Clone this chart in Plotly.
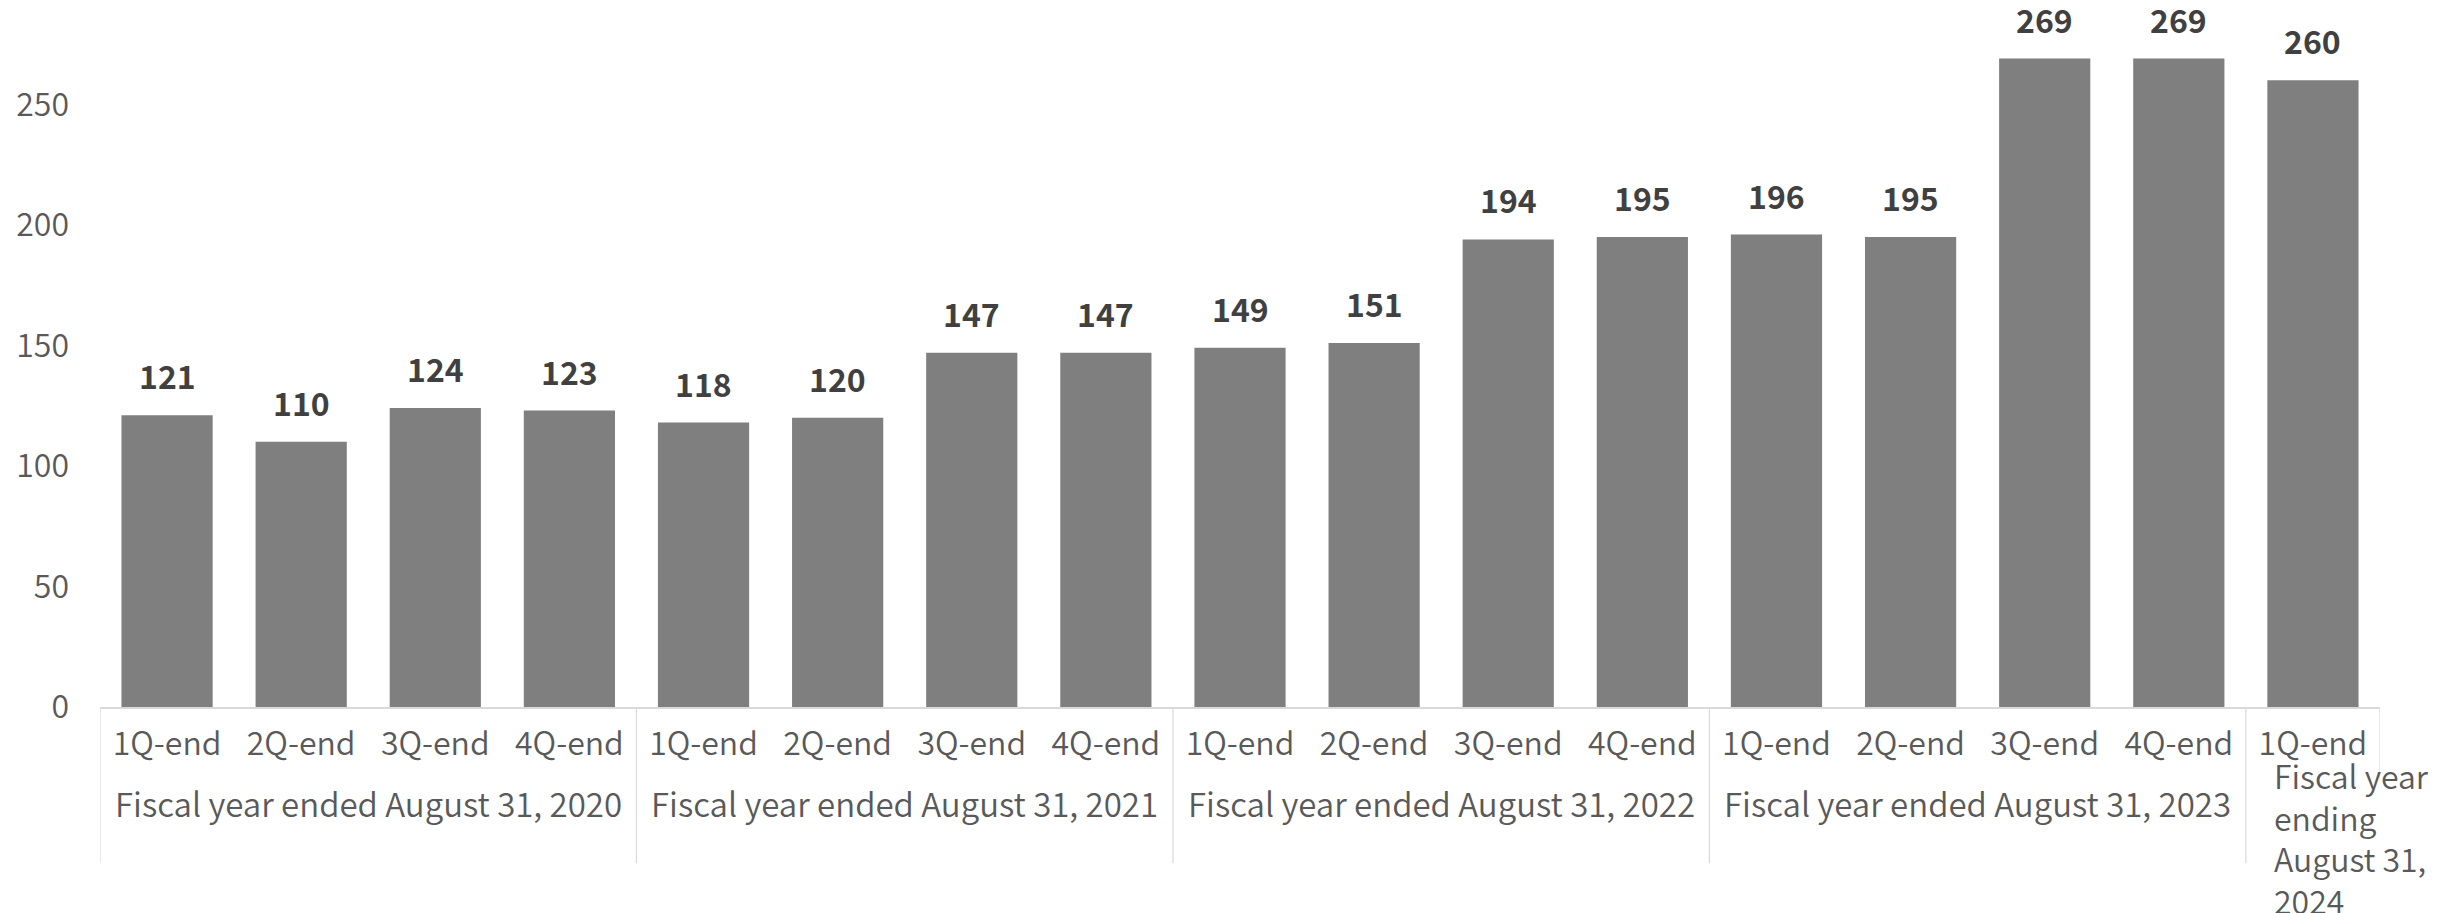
import plotly.graph_objects as go

quarters = ["1Q-end", "2Q-end", "3Q-end", "4Q-end",
            "1Q-end", "2Q-end", "3Q-end", "4Q-end",
            "1Q-end", "2Q-end", "3Q-end", "4Q-end",
            "1Q-end", "2Q-end", "3Q-end", "4Q-end",
            "1Q-end"]
values = [121, 110, 124, 123, 118, 120, 147, 147, 149, 151, 194, 195, 196, 195, 269, 269, 260]
groups = ["Fiscal year ended August 31, 2020",
          "Fiscal year ended August 31, 2021",
          "Fiscal year ended August 31, 2022",
          "Fiscal year ended August 31, 2023",
          "Fiscal year<br>ending<br>August 31,<br>2024"]
group_sizes = [4, 4, 4, 4, 1]
y_ticks = [0, 50, 100, 150, 200, 250]

FONT = "Noto Sans CJK JP"
LABEL_FONT = dict(family=FONT, size=32, color="#595959", weight=350)
x = list(range(len(values)))

fig = go.Figure()
fig.add_trace(go.Bar(
    x=x, y=values,
    marker=dict(color="#7f7f7f", line=dict(width=0)),
    hoverinfo="x+y",
))

annotations = []
for xi, v in zip(x, values):
    annotations.append(dict(
        x=xi, y=v, xref="x", yref="y", text=str(v), showarrow=False,
        yanchor="bottom", yshift=15,
        font=dict(family=FONT, size=32, color="#404040", weight=700),
    ))

shapes = []
start = 0
for gi, (g, n) in enumerate(zip(groups, group_sizes)):
    center = start + (n - 1) / 2
    if n > 1:
        annotations.append(dict(
            x=center, y=-0.137, xref="x", yref="paper", text=g, showarrow=False,
            xanchor="center", yanchor="middle",
            font=dict(family=FONT, size=33, color="#595959", weight=350),
        ))
    else:
        annotations.append(dict(
            x=start, y=-0.186, xref="x", yref="paper", text=g, showarrow=False,
            xanchor="left", yanchor="middle", align="left", xshift=-41,
            font=LABEL_FONT,
        ))
    shapes.append(dict(type="line", xref="x", yref="paper",
                       x0=start - 0.5, x1=start - 0.5, y0=0, y1=-0.2236,
                       line=dict(color="#d9d9d9", width=1.2)))
    start += n
shapes.append(dict(type="line", xref="x", yref="paper",
                   x0=start - 0.5, x1=start - 0.5, y0=0, y1=-0.1006,
                   line=dict(color="#d9d9d9", width=1.2)))

fig.update_layout(
    width=2448, height=913,
    margin=dict(l=100, r=68, t=8, b=206),
    paper_bgcolor="white", plot_bgcolor="white",
    bargap=0.32,
    showlegend=False,
    annotations=annotations,
    shapes=shapes,
    font=dict(family=FONT, color="#595959"),
)
fig.update_xaxes(
    tickmode="array", tickvals=x, ticktext=quarters,
    range=[-0.5, len(values) - 0.5],
    showline=True, linecolor="#d9d9d9", linewidth=1.5,
    ticks="", showgrid=False, zeroline=False,
    tickfont=LABEL_FONT,
    ticklabelstandoff=8,
)
fig.update_yaxes(
    range=[0, 290], tickvals=y_ticks,
    showgrid=False, zeroline=False, showline=False, ticks="",
    tickfont=LABEL_FONT,
    ticklabelstandoff=30,
)

fig.write_html("out.html", config={"displayModeBar": False},
               post_script="document.body.style.margin='0px';")
